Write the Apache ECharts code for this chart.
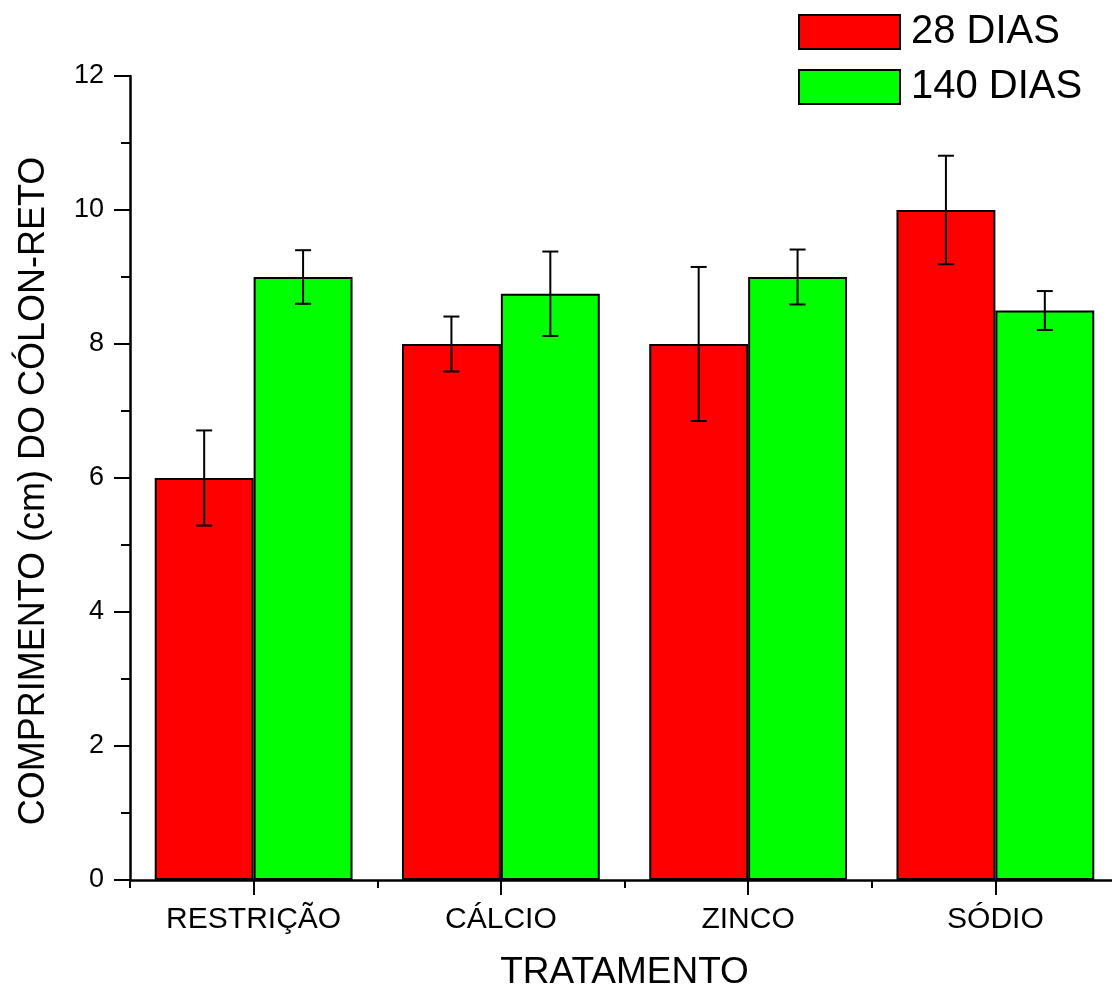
<!DOCTYPE html>
<html><head><meta charset="utf-8">
<script src="https://cdn.jsdelivr.net/npm/echarts@6/dist/echarts.min.js"></script>
<style>html,body{margin:0;padding:0;background:#fff}#c{width:1112px;height:988px}</style>
</head><body><div id="c"></div>
<script>
const categories = ['RESTRIÇÃO', 'CÁLCIO', 'ZINCO', 'SÓDIO'];
const seriesNames = ['28 DIAS', '140 DIAS'];
const values28 = [6, 8, 8, 10];
const errors28 = [0.71, 0.41, 1.15, 0.81];
const values140 = [9, 8.75, 9, 8.5];
const errors140 = [0.4, 0.63, 0.41, 0.29];
const yTicks = [0, 2, 4, 6, 8, 10, 12];
const xTitle = 'TRATAMENTO';
const yTitle = 'COMPRIMENTO (cm) DO CÓLON-RETO';

const FONT = 'Liberation Sans, Arial, Helvetica, sans-serif';
const chart = echarts.init(document.getElementById('c'), null, {renderer: 'canvas'});

function errData(vals, errs) {
  return vals.map((v, i) => [i, v - errs[i], v + errs[i]]);
}
function errRender(side) {
  return function (params, api) {
    const band = api.size([1, 0])[0];
    const off = side * band * 0.2;
    const lo = api.coord([api.value(0), api.value(1)]);
    const hi = api.coord([api.value(0), api.value(2)]);
    const x = lo[0] + off;
    const cap = 8;
    const style = {stroke: '#000', lineWidth: 2};
    return {
      type: 'group',
      children: [
        {type: 'line', shape: {x1: x, y1: lo[1], x2: x, y2: hi[1]}, style},
        {type: 'line', shape: {x1: x - cap, y1: lo[1], x2: x + cap, y2: lo[1]}, style},
        {type: 'line', shape: {x1: x - cap, y1: hi[1], x2: x + cap, y2: hi[1]}, style}
      ]
    };
  };
}

const option = {
  animation: false,
  backgroundColor: '#fff',
  textStyle: {fontFamily: FONT},
  grid: {left: 130, right: -7, top: 76, bottom: 108, containLabel: false, outerBoundsMode: 'none'},
  legend: {
    orient: 'vertical', left: 798, top: 12, padding: 0,
    icon: 'rect',
    itemWidth: 101, itemHeight: 34, itemGap: 15,
    textStyle: {fontSize: 40, color: '#000', fontFamily: FONT, lineHeight: 34, padding: [4, 0, 0, 6]},
    data: seriesNames
  },
  xAxis: [
    {
      type: 'category', data: categories, boundaryGap: true,
      axisLine: {show: true, lineStyle: {color: '#000', width: 2.5}},
      axisTick: {show: true, alignWithLabel: false, length: 8, lineStyle: {color: '#000', width: 2}},
      axisLabel: {fontSize: 30, color: '#000', margin: 25, fontFamily: FONT, interval: 0},
      name: xTitle, nameLocation: 'middle', nameGap: 74,
      nameTextStyle: {fontSize: 37, color: '#000', fontFamily: FONT},
      splitLine: {show: false}
    },
    {
      type: 'category', data: categories, boundaryGap: true, position: 'bottom',
      axisLine: {show: false},
      axisTick: {show: true, alignWithLabel: true, length: 15, lineStyle: {color: '#000', width: 2}, interval: 0},
      axisLabel: {show: false},
      splitLine: {show: false}
    }
  ],
  yAxis: {
    type: 'value', min: yTicks[0], max: yTicks[yTicks.length - 1], interval: 2,
    axisLine: {show: true, lineStyle: {color: '#000', width: 2.5}},
    axisTick: {show: true, length: 16, lineStyle: {color: '#000', width: 2}},
    minorTick: {show: true, splitNumber: 2, length: 9, lineStyle: {color: '#000', width: 2}},
    axisLabel: {fontSize: 27, color: '#000', margin: 26, fontFamily: FONT},
    splitLine: {show: false},
    name: yTitle, nameLocation: 'middle', nameGap: 78, nameRotate: 90,
    nameTextStyle: {fontSize: 36, color: '#000', fontFamily: FONT, padding: [0, 26, 0, 0]}
  },
  series: [
    {
      name: seriesNames[0], type: 'bar', xAxisIndex: 0, data: values28,
      barGap: '0%', barCategoryGap: '20%',
      itemStyle: {color: '#ff0000', borderColor: '#000', borderWidth: 2}
    },
    {
      name: seriesNames[1], type: 'bar', xAxisIndex: 0, data: values140,
      barGap: '0%', barCategoryGap: '20%',
      itemStyle: {color: '#00ff00', borderColor: '#000', borderWidth: 2}
    },
    {
      type: 'custom', xAxisIndex: 0, renderItem: errRender(-1), data: errData(values28, errors28),
      z: 5, silent: true
    },
    {
      type: 'custom', xAxisIndex: 0, renderItem: errRender(1), data: errData(values140, errors140),
      z: 5, silent: true
    }
  ]
};
chart.setOption(option);
</script></body></html>
